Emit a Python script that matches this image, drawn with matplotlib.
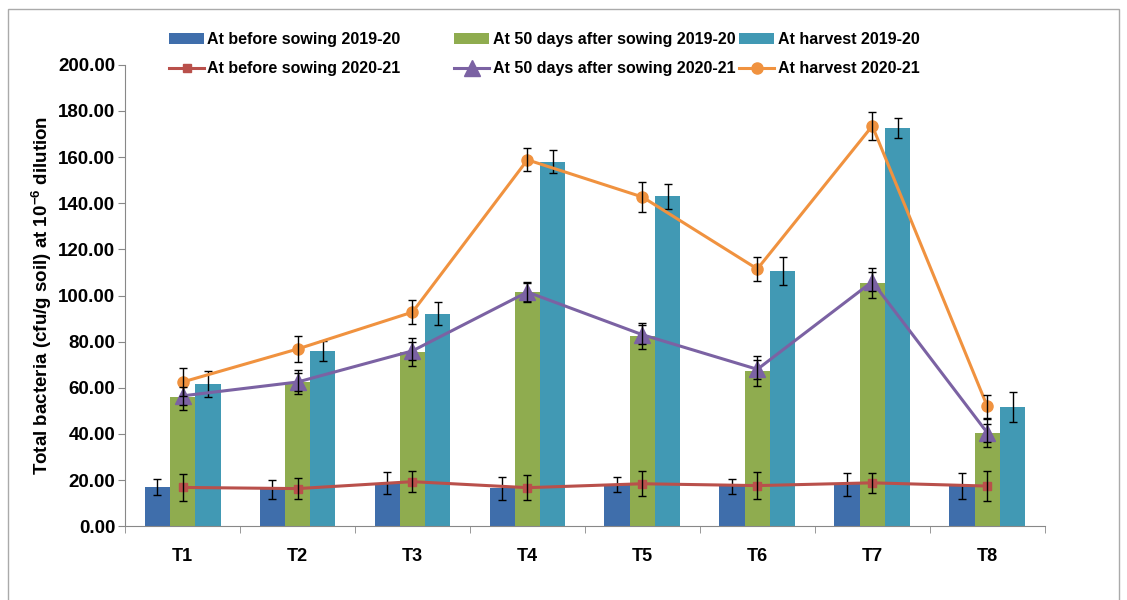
import numpy as np
import matplotlib.pyplot as plt
from matplotlib.patches import Rectangle

plt.rcParams['font.family'] = ['Liberation Sans', 'DejaVu Sans']
plt.rcParams['mathtext.fontset'] = 'custom'
plt.rcParams['mathtext.bf'] = 'Liberation Sans:bold'
plt.rcParams['mathtext.rm'] = 'Liberation Sans'

treatments = ['T1', 'T2', 'T3', 'T4', 'T5', 'T6', 'T7', 'T8']

# 2019-20 (bars)
before_1920 = [17.0, 16.0, 18.6, 16.5, 18.0, 17.3, 18.2, 17.4]
before_1920_err = [3.5, 4.0, 4.7, 5.0, 3.3, 3.3, 5.0, 5.6]
days50_1920 = [56.0, 62.5, 75.5, 101.5, 82.4, 67.2, 105.4, 40.3]
days50_1920_err = [5.5, 5.0, 6.0, 4.0, 5.5, 6.5, 6.5, 6.0]
harvest_1920 = [61.6, 75.9, 92.0, 157.9, 143.0, 110.6, 172.7, 51.7]
harvest_1920_err = [5.8, 4.5, 5.0, 5.0, 5.5, 6.0, 4.3, 6.5]

# 2020-21 (lines)
before_2021 = [16.8, 16.3, 19.3, 16.7, 18.4, 17.6, 18.8, 17.4]
before_2021_err = [6.0, 4.5, 4.5, 5.5, 5.5, 6.0, 4.3, 6.5]
days50_2021 = [56.5, 62.5, 76.0, 101.5, 83.0, 68.0, 106.0, 40.5]
days50_2021_err = [4.0, 4.0, 4.0, 4.5, 4.0, 4.0, 4.0, 4.0]
harvest_2021 = [62.5, 76.8, 92.8, 158.8, 142.7, 111.5, 173.5, 52.0]
harvest_2021_err = [6.0, 5.5, 5.2, 5.0, 6.5, 5.2, 6.0, 5.0]

labels = ['At before sowing 2019-20', 'At 50 days after sowing 2019-20',
          'At harvest 2019-20', 'At before sowing 2020-21',
          'At 50 days after sowing 2020-21', 'At harvest 2020-21']

x = np.arange(len(treatments))
w = 0.22

fig = plt.figure(figsize=(11.27, 6), dpi=100)
ax = fig.add_axes([0.111, 0.123, 0.816, 0.769])

err_kw = dict(ecolor='black', elinewidth=1, capsize=3, capthick=1)
b1 = ax.bar(x - w, before_1920, w, color='#3f6eab', yerr=before_1920_err, error_kw=err_kw, zorder=2)
b2 = ax.bar(x, days50_1920, w, color='#8fac4f', yerr=days50_1920_err, error_kw=err_kw, zorder=2)
b3 = ax.bar(x + w, harvest_1920, w, color='#4199b4', yerr=harvest_1920_err, error_kw=err_kw, zorder=2)

l1, = ax.plot(x, before_2021, color='#b9504b', lw=2.2, marker='s', ms=6, zorder=4)
l2, = ax.plot(x, days50_2021, color='#7b62a3', lw=2.2, marker='^', ms=11, zorder=4)
l3, = ax.plot(x, harvest_2021, color='#f0923f', lw=2.2, marker='o', ms=8, zorder=4)
for vals, errs in [(before_2021, before_2021_err), (days50_2021, days50_2021_err),
                   (harvest_2021, harvest_2021_err)]:
    ax.errorbar(x, vals, yerr=errs, fmt='none', ecolor='black', elinewidth=1,
                capsize=3, capthick=1, zorder=5)

ax.set_xlim(-0.5, 7.5)
ax.set_ylim(0, 200)
ax.set_yticks(np.arange(0, 201, 20))
ax.set_yticklabels(['%.2f' % v for v in np.arange(0, 201, 20)],
                   fontsize=13.5, fontweight='bold')
ax.set_xticks(x)
ax.set_xticklabels(treatments, fontsize=13, fontweight='bold')
ax.set_xticks(np.arange(-0.5, 8, 1), minor=True)
ax.tick_params(axis='x', which='major', length=0, pad=16)
ax.tick_params(axis='x', which='minor', length=5, color='#888888')
ax.tick_params(axis='y', length=5, color='#888888', pad=2)
for s in ['top', 'right']:
    ax.spines[s].set_visible(False)
for s in ['left', 'bottom']:
    ax.spines[s].set_color('#888888')

ax.set_ylabel('Total bacteria (cfu/g soil) at 10$^{\\mathbf{-6}}$ dilution',
              fontsize=13.5, fontweight='bold', labelpad=3)

# one legend per column, placed like the original
leg_cols = [([b1, l1], [labels[0], labels[3]], 0.150),
            ([b2, l2], [labels[1], labels[4]], 0.403),
            ([b3, l3], [labels[2], labels[5]], 0.656)]
for hs, ls, xpos in leg_cols:
    fig.legend(hs, ls, loc='upper left', bbox_to_anchor=(xpos, 0.947),
               frameon=False, borderaxespad=0, borderpad=0,
               prop={'weight': 'bold', 'size': 11.5},
               handlelength=2.2, handletextpad=0.2, labelspacing=0.92)

fig.patches.append(Rectangle((0.007, -0.01), 0.986, 0.995, transform=fig.transFigure,
                             fill=False, edgecolor='#aaaaaa', lw=1))

plt.savefig('out.png', dpi=100)
